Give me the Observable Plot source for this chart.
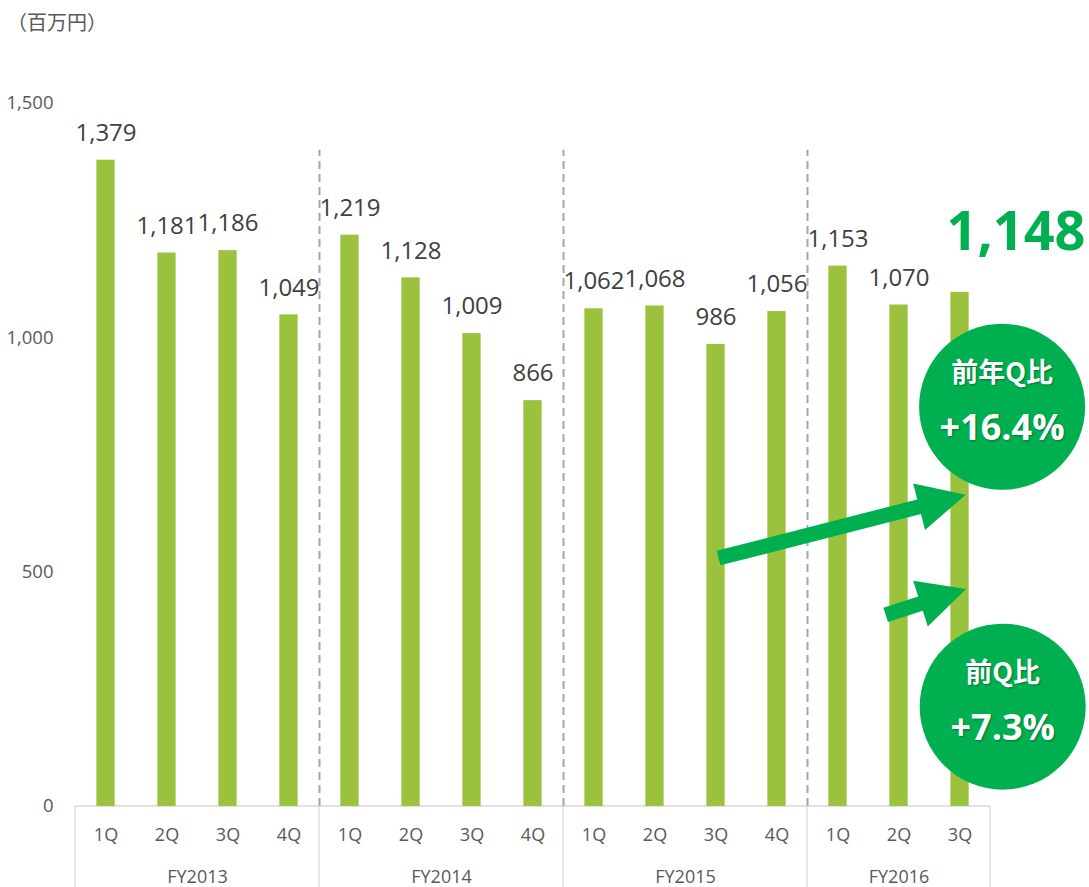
<!DOCTYPE html>
<html>
<head>
<meta charset="utf-8">
<script src="https://cdn.jsdelivr.net/npm/d3@7"></script>
<script src="https://cdn.jsdelivr.net/npm/@observablehq/plot@0.6"></script>
<style>
  body { margin: 0; background: #fff; font-family: "Open Sans", "Noto Sans CJK JP", sans-serif; }
  #unit { height: 40px; line-height: 44px; font-size: 20px; color: #595959; padding-left: 7px;
          font-family: "Noto Sans CJK JP", sans-serif; }
  g[fill="white"] text { text-shadow: 1px 1px 2px rgba(0,0,0,0.35); }
</style>
</head>
<body>
<div id="unit">（百万円）</div>
<div id="chart"></div>
<script>
// ---- data ----
const quarters = ["1Q","2Q","3Q","4Q","1Q","2Q","3Q","4Q","1Q","2Q","3Q","4Q","1Q","2Q","3Q"];
const fiscalYears = ["FY2013","FY2013","FY2013","FY2013","FY2014","FY2014","FY2014","FY2014",
                     "FY2015","FY2015","FY2015","FY2015","FY2016","FY2016","FY2016"];
const sales = [1379, 1181, 1186, 1049, 1219, 1128, 1009, 866, 1062, 1068, 986, 1056, 1153, 1070, 1097];
const salesLabels = ["1,379","1,181","1,186","1,049","1,219","1,128","1,009","866",
                     "1,062","1,068","986","1,056","1,153","1,070",""];
const latestLabel = "1,148";
const yTicks = [0, 500, 1000, 1500];
const badgeTitles = ["前年Q比", "前Q比"];
const badgeValues = ["+16.4%", "+7.3%"];
const badgeX = [14.69, 14.70];
const badgeY = [853, 213];
const arrowFrom = [[10.05, 529], [12.79, 408]];
const arrowTo = [[14.10, 664], [14.11, 463]];

// ---- derived tables ----
const bars = sales.map((v, i) => ({i, v, q: quarters[i], fy: fiscalYears[i], label: salesLabels[i]}));
const groupNames = [...new Set(fiscalYears)];
const groups = groupNames.map(name => {
  const idx = fiscalYears.map((f, i) => f === name ? i : -1).filter(i => i >= 0);
  return {name, from: d3.min(idx), to: d3.max(idx)};
});
const boundaries = [groups[0].from - 0.5, ...groups.map(g => g.to + 0.5)];
const separators = boundaries.slice(1, -1);
const badges = badgeTitles.map((t, k) => ({title: t, value: badgeValues[k], x: badgeX[k], y: badgeY[k]}));
const arrows = arrowFrom.map((f, k) => ({x1: f[0], y1: f[1], x2: arrowTo[k][0], y2: arrowTo[k][1]}));

const GREEN = "#00b050";
const BAR = "#9bc23c";

function boxMark(index, scales, values, dimensions) {
  const sx = scales.x, sy = scales.y;
  const g = d3.create("svg:g").attr("stroke", "#d9d9d9").attr("stroke-width", 1.3);
  const y0 = sy(0);
  g.append("line").attr("x1", sx(boundaries[0])).attr("x2", sx(boundaries[boundaries.length - 1]))
    .attr("y1", y0).attr("y2", y0);
  for (const b of boundaries) {
    g.append("line").attr("x1", sx(b)).attr("x2", sx(b)).attr("y1", y0).attr("y2", dimensions.height);
  }
  return g.node();
}

function arrowMark(index, scales) {
  const sx = scales.x, sy = scales.y;
  const g = d3.create("svg:g").attr("fill", GREEN);
  const hl = 48, hw = 24, sw = 7.5;
  for (const a of arrows) {
    const x1 = sx(a.x1), y1 = sy(a.y1), x2 = sx(a.x2), y2 = sy(a.y2);
    const L = Math.hypot(x2 - x1, y2 - y1), ux = (x2 - x1) / L, uy = (y2 - y1) / L;
    const px = -uy, py = ux;
    const bx = x2 - ux * hl, by = y2 - uy * hl;
    const pts = [
      [x1 + px * sw, y1 + py * sw], [bx + px * sw, by + py * sw], [bx + px * hw, by + py * hw],
      [x2, y2],
      [bx - px * hw, by - py * hw], [bx - px * sw, by - py * sw], [x1 - px * sw, y1 - py * sw]
    ];
    g.append("path").attr("d", "M" + pts.map(p => p.join(",")).join("L") + "Z");
  }
  return g.node();
}

const plot = Plot.plot({
  width: 1089,
  height: 847,
  marginTop: 63,
  marginBottom: 81,
  marginLeft: 75,
  marginRight: 99,
  style: {fontFamily: "'Open Sans', 'Noto Sans CJK JP', sans-serif", color: "#595959", background: "white"},
  x: {type: "linear", domain: [boundaries[0], boundaries[boundaries.length - 1]], axis: null},
  y: {domain: [0, 1500], axis: null},
  marks: [
    Plot.text(yTicks, {x: boundaries[0], y: d => d, text: d => d3.format(",")(d), dx: -22,
                       textAnchor: "end", fontSize: 18.5, fill: "#595959"}),
    boxMark,
    Plot.ruleX(separators, {x: d => d, y1: 0, y2: 1400, stroke: "#a6a6a6", strokeWidth: 2,
                            strokeDasharray: "8,5"}),
    Plot.rect(bars, {x1: d => d.i - 0.15, x2: d => d.i + 0.15, y1: 0, y2: "v", fill: BAR}),
    Plot.text(bars, {x: "i", y: "v", text: "label", dy: -27, fontSize: 24, fill: "#404040"}),
    Plot.text(bars, {x: "i", y: 0, text: "q", dy: 29, fontSize: 18, fill: "#595959"}),
    Plot.text(groups, {x: d => (d.from + d.to) / 2, y: 0, text: "name", dy: 71, fontSize: 18, fill: "#595959"}),
    Plot.text(bars.slice(-1), {x: "i", y: "v", text: () => latestLabel, dx: 56, dy: -60,
                               fontSize: 54, fontWeight: "bold", fill: GREEN}),
    arrowMark,
    Plot.dot(badges, {x: "x", y: "y", r: 83, fill: GREEN}),
    Plot.text(badges, {x: "x", y: "y", text: "title", dy: -33, fontSize: 27, fontWeight: "bold",
                       fill: "white", fontFamily: "'Noto Sans CJK JP', sans-serif"}),
    Plot.text(badges, {x: "x", y: "y", text: "value", dy: 22, fontSize: 36, fontWeight: "bold",
                       fill: "white"})
  ]
});
document.getElementById("chart").appendChild(plot);
</script>
</body>
</html>
